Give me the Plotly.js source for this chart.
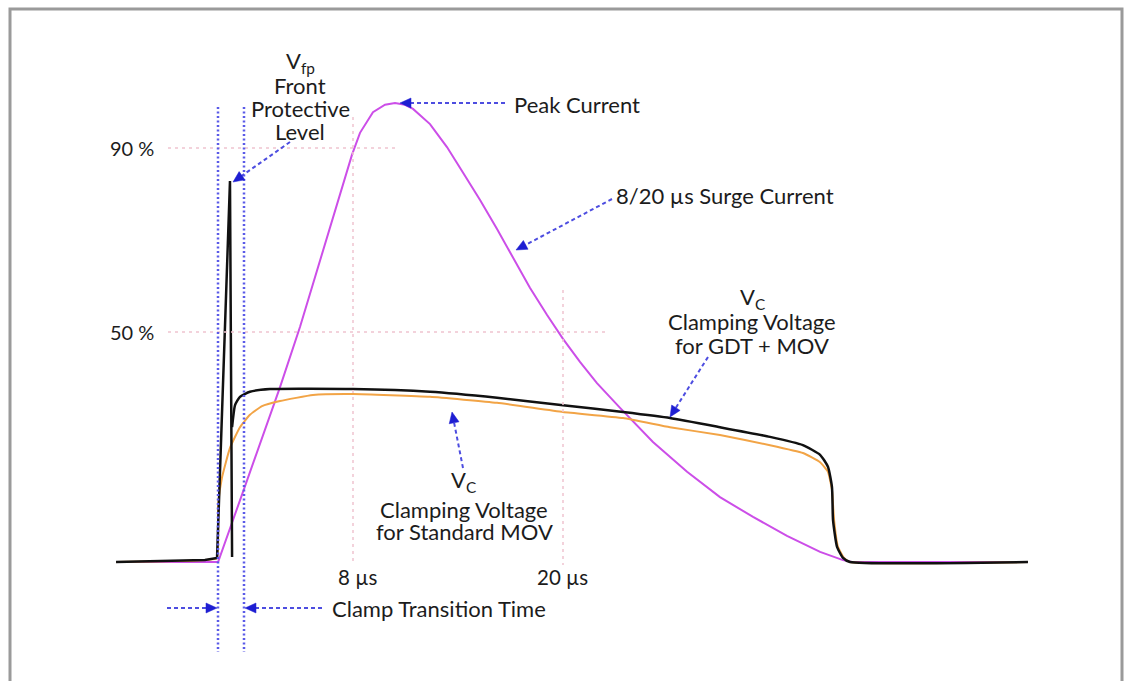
<!DOCTYPE html>
<html>
<head>
<meta charset="utf-8">
<script src="https://cdn.plot.ly/plotly-3.0.1.min.js"></script>
<style>
  html, body { margin: 0; padding: 0; background: #fff; }
  #chart { width: 1128px; height: 681px; }
</style>
</head>
<body>
<div id="chart"></div>
<script>
// ---- Data (time in µs, amplitude in % of peak) ----
const tSurge = [-5.54, 0.29, 1.83, 3.09, 3.83, 4.97, 5.83, 6.69, 7.43, 7.94, 8.4, 9.14, 9.83, 10.4, 10.97, 11.43, 12.4, 13.37, 14.29, 15.26, 16.23, 17.14, 18.11, 19.09, 20, 20.97, 21.94, 23.26, 25.14, 27.09, 28.97, 30.86, 32.8, 34.69, 36, 36.51, 46.57];
const vSurge = [0, 0, 16.5, 30, 38, 51.1, 62, 73, 82.4, 88.5, 93.3, 97.8, 99.4, 99.8, 99.4, 98.5, 95.2, 90.2, 84.6, 78.7, 72.4, 66.1, 59.6, 53.7, 48.5, 43.5, 38.9, 33.5, 26.1, 19.6, 14.1, 9.8, 5.7, 2.2, 0.4, 0, 0];

const tMov = [-5.54, -1.89, -0.46, 0.23, 0.29, 0.51, 0.97, 1.54, 2.11, 2.8, 3.83, 5.71, 8, 12.4, 16.23, 20, 23.43, 26.11, 28.97, 31.83, 33.71, 34.69, 35.14, 35.37, 35.49, 35.71, 36.06, 36.4, 46.57];
const vMov = [0, 0.2, 0.43, 0.87, 12.4, 18.3, 24.8, 29.3, 32, 33.9, 35, 36.3, 36.5, 35.9, 34.6, 32.6, 31.3, 29.3, 27.6, 25.4, 23.7, 21.7, 19.6, 15.7, 9.1, 3.3, 0.9, 0, 0];

const tGdtSpike = [-5.54, -1.89, -0.46, 0.23, 0.97, 1.09];
const vGdtSpike = [0, 0.2, 0.43, 0.87, 82.8, 1.1];

const tGdtClamp = [1.09, 1.26, 1.54, 2.11, 3.26, 8, 12.4, 16.23, 20, 23.43, 26.11, 28.97, 31.83, 33.71, 34.69, 35.14, 35.37, 35.43, 35.66, 36, 36.4, 46.57];
const vGdtClamp = [29.3, 34.1, 35.9, 37, 37.6, 37.6, 37, 35.7, 34.1, 32.6, 31.3, 29.3, 27.2, 25.4, 23.3, 20.7, 16.3, 9.1, 3.3, 0.9, 0, 0];

const levelLines = [90, 50];
const levelLabels = ["90 %", "50 %"];
const timeMarks = [8, 20];
const timeLabels = ["8 µs", "20 µs"];

// ---- pixel helpers for layout decorations ----
const X = px => (px - 213) / 17.5;
const Y = py => (562 - py) / 4.6;

const FONT = "Lato, 'Open Sans', sans-serif";
const TXT = "#1c1c1c";
const BLUE_LINE = "#4d4de0";
const BLUE_HEAD = "#1e1ed2";
const PINK = "#f0c4d0";

const traces = [
  {x: tSurge, y: vSurge, mode: "lines", line: {color: "#cc4ee8", width: 2}, hoverinfo: "skip"},
  {x: tMov, y: vMov, mode: "lines", line: {color: "#f2a446", width: 2, shape: "spline", smoothing: 0.4}, hoverinfo: "skip"},
  {x: tGdtSpike, y: vGdtSpike, mode: "lines", line: {color: "#111111", width: 2.5}, hoverinfo: "skip"},
  {x: tGdtClamp, y: vGdtClamp, mode: "lines", line: {color: "#111111", width: 2.5, shape: "spline", smoothing: 0.5}, hoverinfo: "skip"}
];

const shapes = [];
const annotations = [];

// border
shapes.push({type: "rect", xref: "paper", yref: "paper", x0: 10/1128, x1: 1122/1128, y0: -0.05, y1: 1 - 9/681,
  line: {color: "#9a9a9a", width: 3}, fillcolor: "rgba(0,0,0,0)"});

// pink reference lines
const levelEnds = [395, 605];
levelLines.forEach((lv, i) => {
  shapes.push({type: "line", x0: X(168), x1: X(levelEnds[i]), y0: lv, y1: lv, line: {color: PINK, width: 1.5, dash: "3px,4px"}});
  annotations.push({x: X(132), y: lv, text: levelLabels[i], showarrow: false, xanchor: "center", yanchor: "middle",
    font: {family: FONT, size: 20, color: TXT}});
});
const markTops = [117, 290];
timeMarks.forEach((tm, i) => {
  shapes.push({type: "line", x0: tm, x1: tm, y0: Y(markTops[i]), y1: Y(565), line: {color: PINK, width: 1.5, dash: "3px,4px"}});
});
annotations.push({x: X(357), y: Y(577), text: timeLabels[0], showarrow: false, xanchor: "center", yanchor: "middle", font: {family: FONT, size: 20.5, color: TXT}});
annotations.push({x: X(562), y: Y(577), text: timeLabels[1], showarrow: false, xanchor: "center", yanchor: "middle", font: {family: FONT, size: 20.5, color: TXT}});

// blue dotted clamp transition lines
[218, 244].forEach(px => {
  shapes.push({type: "line", x0: X(px), x1: X(px), y0: Y(107), y1: Y(652), line: {color: "#5a5ae8", width: 2.5, dash: "2px,2.5px"}});
});

// dashed arrows [tailX, tailY, headX, headY]
const arrows = [
  [290, 142, 233, 182],
  [505, 103, 400, 103],
  [612, 199, 516, 250],
  [708, 357, 670, 417],
  [463, 468, 452, 412],
  [167, 608, 217, 608],
  [322, 608, 245, 608]
];
arrows.forEach(a => {
  const [tx, ty, hx, hy] = a;
  const dx = tx - hx, dy = ty - hy, L = Math.hypot(dx, dy);
  const ux = dx / L, uy = dy / L;
  shapes.push({type: "line", x0: X(tx), y0: Y(ty), x1: X(hx + ux*8), y1: Y(hy + uy*8),
    line: {color: BLUE_LINE, width: 2, dash: "4px,3px"}});
  const bx = hx + ux*11, by = hy + uy*11;
  const px1 = bx - uy*5, py1 = by + ux*5, px2 = bx + uy*5, py2 = by - ux*5;
  shapes.push({type: "path",
    path: `M ${X(hx)} ${Y(hy)} L ${X(px1)} ${Y(py1)} L ${X(px2)} ${Y(py2)} Z`,
    fillcolor: BLUE_HEAD, line: {color: BLUE_HEAD, width: 0.5}});
});

// text labels [text, px, py, anchor]
const labels = [
  ["V<sub>fp</sub>", 300, 62, "center"],
  ["Front", 300, 85, "center"],
  ["Protective", 300, 108, "center"],
  ["Level", 300, 131, "center"],
  ["Peak Current", 512, 104, "left"],
  ["8/20 µs Surge Current", 614, 195, "left"],
  ["V<sub>C</sub>", 752, 298, "center"],
  ["Clamping Voltage", 752, 321, "center"],
  ["for GDT + MOV", 752, 345, "center"],
  ["V<sub>C</sub>", 463, 481, "center"],
  ["Clamping Voltage", 464, 509, "center"],
  ["for Standard MOV", 464, 531, "center"],
  ["Clamp Transition Time", 330, 608, "left"]
];
labels.forEach(l => {
  annotations.push({x: X(l[1]), y: Y(l[2]), text: l[0], showarrow: false, xanchor: l[3], yanchor: "middle",
    font: {family: FONT, size: 22, color: TXT}});
});

const layout = {
  width: 1128, height: 681,
  margin: {l: 0, r: 0, t: 0, b: 0, pad: 0},
  paper_bgcolor: "#ffffff", plot_bgcolor: "#ffffff",
  showlegend: false,
  xaxis: {range: [X(0), X(1128)], visible: false, fixedrange: true},
  yaxis: {range: [Y(681), Y(0)], visible: false, fixedrange: true},
  shapes: shapes,
  annotations: annotations
};

Plotly.newPlot("chart", traces, layout, {staticPlot: true, displayModeBar: false});
</script>
</body>
</html>
